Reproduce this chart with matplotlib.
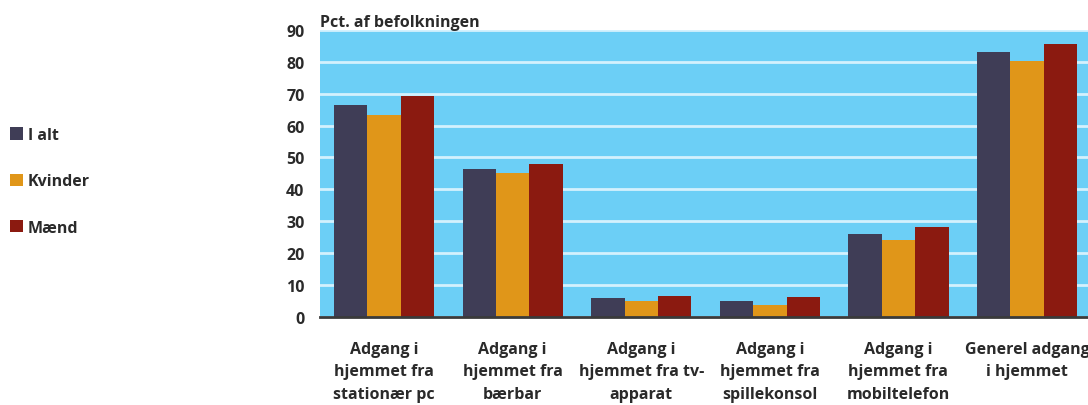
import matplotlib.pyplot as plt
import numpy as np

categories = ['Adgang i\nhjemmet fra\nstationær pc', 'Adgang i\nhjemmet fra\nbærbar',
              'Adgang i\nhjemmet fra tv-\napparat', 'Adgang i\nhjemmet fra\nspillekonsol',
              'Adgang i\nhjemmet fra\nmobiltelefon', 'Generel adgang\ni hjemmet']
i_alt = [66.5, 46.4, 6.0, 5.0, 26.0, 83.1]
kvinder = [63.3, 45.1, 5.0, 3.8, 24.1, 80.3]
maend = [69.3, 48.0, 6.6, 6.3, 28.2, 85.6]

plt.rcParams['font.family'] = ['Open Sans', 'DejaVu Sans']
plt.rcParams['font.weight'] = 'bold'
txt = '#2a2a2a'

fig = plt.figure(figsize=(10.88, 4.06), dpi=100)
ax = fig.add_axes([0.294, 0.217, 0.709, 0.707])
ax.set_facecolor('#6ccff6')

x = np.arange(len(categories)) + 0.5
w = 0.26
ax.bar(x - w, i_alt, w, color='#3f3d56', label='I alt', zorder=3)
ax.bar(x, kvinder, w, color='#e09619', label='Kvinder', zorder=3)
ax.bar(x + w, maend, w, color='#8b1a10', label='Mænd', zorder=3)

ax.set_xlim(0, 6)
ax.set_ylim(0, 90)
ax.set_yticks(range(0, 91, 10))
ax.yaxis.grid(True, color='#d4f1fd', linewidth=2, zorder=1)
ax.set_xticks(x)
ax.set_xticklabels(categories, fontsize=11.5, color=txt, linespacing=1.55)
ax.tick_params(axis='x', length=0, pad=17)
ax.tick_params(axis='y', length=0, pad=11, labelsize=11.5, labelcolor=txt)
for s in ['top', 'right', 'left']:
    ax.spines[s].set_visible(False)
ax.spines['bottom'].set_color('#3a3a3a')
ax.spines['bottom'].set_linewidth(2)
ax.spines['bottom'].set_zorder(4)

fig.text(0.294, 0.934, 'Pct. af befolkningen', fontsize=11.5, color=txt, ha='left', va='baseline')

fig.legend(loc='upper left', bbox_to_anchor=(-0.004, 0.72), frameon=False, fontsize=11.5,
           handlelength=0.8, handleheight=0.8, handletextpad=0.3, labelspacing=1.9,
           labelcolor=txt)

plt.savefig('out.png', dpi=100)
plt.close('all')
